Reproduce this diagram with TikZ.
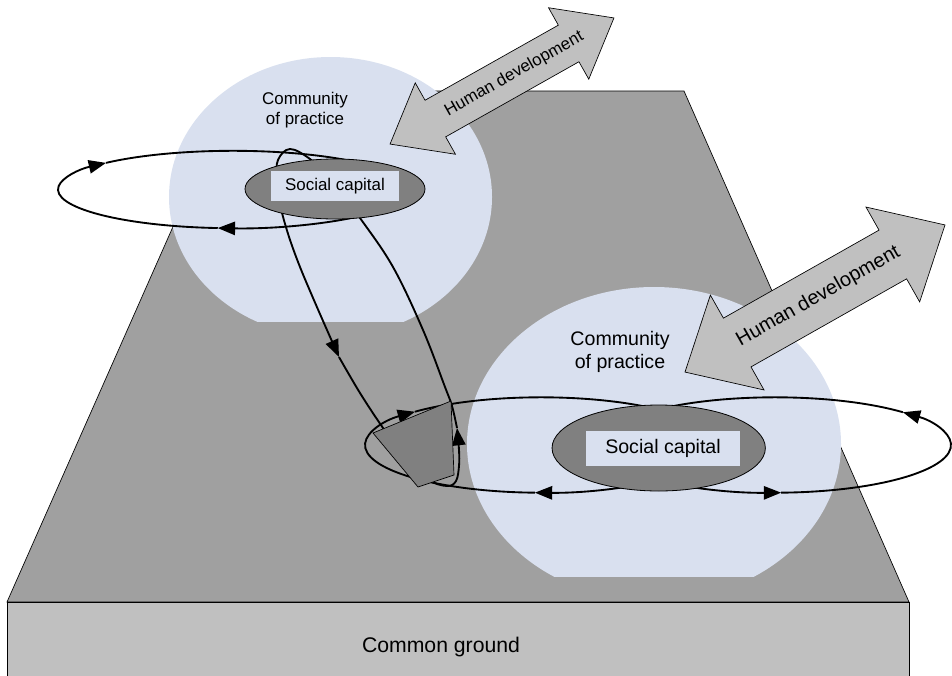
\documentclass[tikz,border=0pt]{standalone}
\usepackage{fontspec}
\setmainfont{Liberation Sans}
\usetikzlibrary{shapes.geometric}
\usetikzlibrary{arrows.meta}
\definecolor{copblue}{RGB}{217,224,239}
\definecolor{groundtop}{RGB}{160,160,160}
\definecolor{groundfront}{RGB}{192,192,192}
\definecolor{capgray}{RGB}{128,128,128}
\definecolor{arrowgray}{RGB}{192,192,192}

\begin{document}
\begin{tikzpicture}[x=0.75pt, y=-0.75pt,
  edge/.style={draw, line width=0.5pt},
  cop/.style={fill=copblue},
  capital/.style={ellipse, draw, fill=capgray, line width=0.6pt, inner sep=0pt},
  caplbl/.style={fill=copblue, inner sep=0pt},
  orbit/.style={line width=1.4pt, -{Triangle[length=13pt,width=10pt]}},
  hd/.style={draw, fill=arrowgray, line width=0.5pt},
]
\useasboundingbox (0,0) rectangle (952,675);
%common ground
\draw[edge, fill=groundtop] (233,91) -- (684,91) -- (909,602) -- (7,602) -- cycle;
\draw[edge, fill=groundfront] (7,602) rectangle (909,679);
\node[font=\fontsize{15.9}{19}\selectfont] (ground) at (441,647) {Common ground};
%communities of practice
\begin{scope}
  \clip (0,0) rectangle (952,321);
  \fill[cop] (330.5,197) ellipse [x radius=161.5, y radius=140];
\end{scope}
\begin{scope}
  \clip (0,0) rectangle (952,576);
  \fill[cop] (654,444) ellipse [x radius=187, y radius=157];
\end{scope}
\node[align=center, font=\fontsize{12.7}{15}\selectfont] (cop1) at (305,110) {Community\\of practice};
\node[align=center, font=\fontsize{14.7}{17.3}\selectfont] (cop2) at (620,352) {Community\\of practice};
%human development
\foreach \cx/\cy/\ang/\len/\hl/\sw/\hw/\tx/\fs/\nm in {502/81/29.4/128.5/52/21/41/14/12.7/hd1,
  815/298.5/29.5/149.4/60/28/54.5/4/15/hd2}
{
  \begin{scope}[shift={(\cx,\cy)}, rotate=\ang]
    \draw[hd] (-\len,0) -- (-\len+\hl,-\hw) -- (-\len+\hl,-\sw) -- (\len-\hl,-\sw)
      -- (\len-\hl,-\hw) -- (\len,0) -- (\len-\hl,\hw) -- (\len-\hl,\sw)
      -- (-\len+\hl,\sw) -- (-\len+\hl,\hw) -- cycle;
    \node[rotate=\ang, font=\fontsize{\fs}{\fs}\selectfont] (\nm) at (\tx,0) {Human development};
  \end{scope}
}
%loops
\coordinate (loopA) at (233,189.5);
\coordinate (loopB) at (541,445);
\coordinate (loopC) at (775,445);
\draw[orbit] (loopA) ++(95:175 and 38.7) arc[start angle=95, end angle=223.5, x radius=175, y radius=38.7];
\draw[orbit] (loopA) ++(223.5:175 and 38.7) arc[start angle=223.5, end angle=455, x radius=175, y radius=38.7];
\draw[orbit] (loopB) ++(92:176 and 47.7) arc[start angle=92, end angle=224.3, x radius=176, y radius=47.7];
\draw[orbit] (loopB) ++(224.3:176 and 47.7) arc[start angle=224.3, end angle=452, x radius=176, y radius=47.7];
\draw[orbit] (loopC) ++(448:176 and 47.7) arc[start angle=448, end angle=316.6, x radius=176, y radius=47.7];
\draw[orbit] (loopC) ++(316.6:176 and 47.7) arc[start angle=316.6, end angle=88, x radius=176, y radius=47.7];
\draw[orbit] plot[smooth, tension=0.6] coordinates {(457,428) (452,406) (445,387) (423,330)
  (393,267) (360,218) (330,178) (310,159) (290,149) (278,160) (277,180) (282,213) (300,267) (339,357)};
\draw[orbit] plot[smooth, tension=0.6] coordinates {(339,357) (360,393) (383,428) (408,463)
  (428,480) (447,486) (456,481) (459,466) (459,450) (457,428)};
%social capital
\node[capital, minimum width=135pt, minimum height=45pt] (cap1) at (335,189) {};
\node[caplbl, minimum width=96pt, minimum height=23pt, font=\fontsize{12.7}{15}\selectfont] (cap1lbl) at (335,186) {Social capital};
\node[capital, minimum width=160pt, minimum height=64.5pt] (cap2) at (658.7,448) {};
\node[caplbl, minimum width=115.5pt, minimum height=26pt, font=\fontsize{14.7}{17}\selectfont] (cap2lbl) at (663,448.5) {Social capital};
%bridge
\draw[edge, fill=capgray] (373,433) -- (451,401) -- (454,475) -- (418,487) -- cycle;
\end{tikzpicture}
\end{document}
